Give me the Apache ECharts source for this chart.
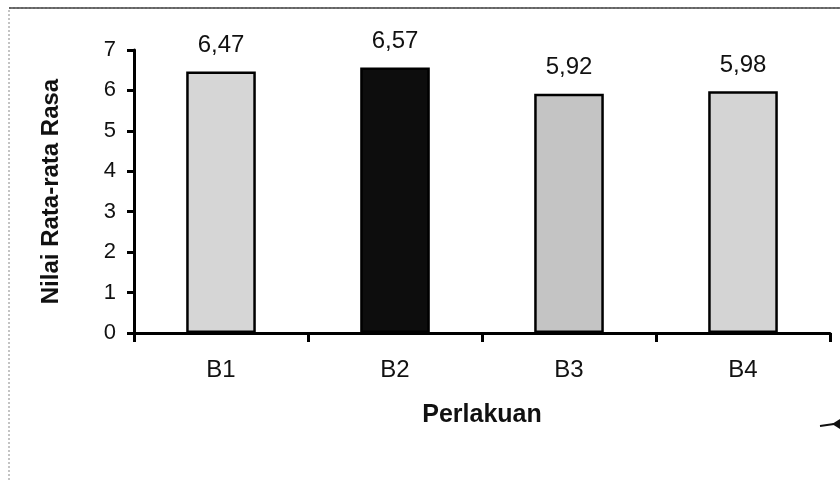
<!DOCTYPE html>
<html>
<head>
<meta charset="utf-8">
<script src="https://cdn.jsdelivr.net/npm/echarts@6/dist/echarts.min.js"></script>
<style>
html,body{margin:0;padding:0;background:#fff;}
#chart{width:840px;height:480px;}
</style>
</head>
<body>
<div id="chart"></div>
<script>
const categories = ['B1', 'B2', 'B3', 'B4'];
const values = [6.47, 6.57, 5.92, 5.98];
const valueLabels = ['6,47', '6,57', '5,92', '5,98'];
const barColors = ['#d6d6d6', '#0d0d0d', '#c4c4c4', '#d4d4d4'];
const yTicks = [0, 1, 2, 3, 4, 5, 6, 7];

const chart = echarts.init(document.getElementById('chart'));
const font = '"Liberation Sans", Arial, sans-serif';
chart.setOption({
  animation: false,
  backgroundColor: '#fff',
  graphic: [
    { type: 'rect', shape: { x: 9, y: 8, width: 840, height: 480 },
      style: { fill: 'none', stroke: '#888', lineWidth: 1, lineDash: [2, 2] } },
    { type: 'line', shape: { x1: 9, y1: 8, x2: 840, y2: 8 },
      style: { stroke: '#444', lineWidth: 1.5 } },
    { type: 'line', shape: { x1: 820, y1: 426, x2: 834, y2: 424 },
      style: { stroke: '#111', lineWidth: 2 } },
    { type: 'polygon', shape: { points: [[832, 424], [840, 419], [840, 429]] },
      style: { fill: '#111' } }
  ],
  grid: { left: 134, right: 10, top: 50, bottom: 147 },
  xAxis: {
    type: 'category',
    data: categories,
    name: 'Perlakuan',
    nameLocation: 'middle',
    nameGap: 70,
    nameTextStyle: { fontFamily: font, fontSize: 25, fontWeight: 'bold', color: '#111' },
    axisLine: { lineStyle: { color: '#000', width: 3 } },
    axisTick: { show: true, length: 9, alignWithLabel: false, lineStyle: { color: '#000', width: 3 } },
    axisLabel: { fontFamily: font, fontSize: 24, color: '#111', margin: 25 }
  },
  yAxis: {
    type: 'value',
    min: 0, max: 7, interval: 1,
    name: 'Nilai Rata-rata Rasa',
    nameLocation: 'middle',
    nameGap: 71,
    nameTextStyle: { fontFamily: font, fontSize: 24, fontWeight: 'bold', color: '#111' },
    axisLine: { show: true, lineStyle: { color: '#000', width: 3 } },
    axisTick: { show: true, length: 7, lineStyle: { color: '#000', width: 3 } },
    axisLabel: { fontFamily: font, fontSize: 22, color: '#111', margin: 18,
      formatter: v => yTicks.includes(v) ? String(v) : '' },
    splitLine: { show: false }
  },
  series: [{
    type: 'bar',
    barWidth: '40%',
    data: values.map((v, i) => ({
      value: v,
      itemStyle: { color: barColors[i], borderColor: '#000', borderWidth: 2.5 }
    })),
    label: {
      show: true, position: 'top', distance: 14,
      fontFamily: font, fontSize: 24, color: '#111',
      formatter: p => valueLabels[p.dataIndex]
    }
  }]
});
</script>
</body>
</html>
